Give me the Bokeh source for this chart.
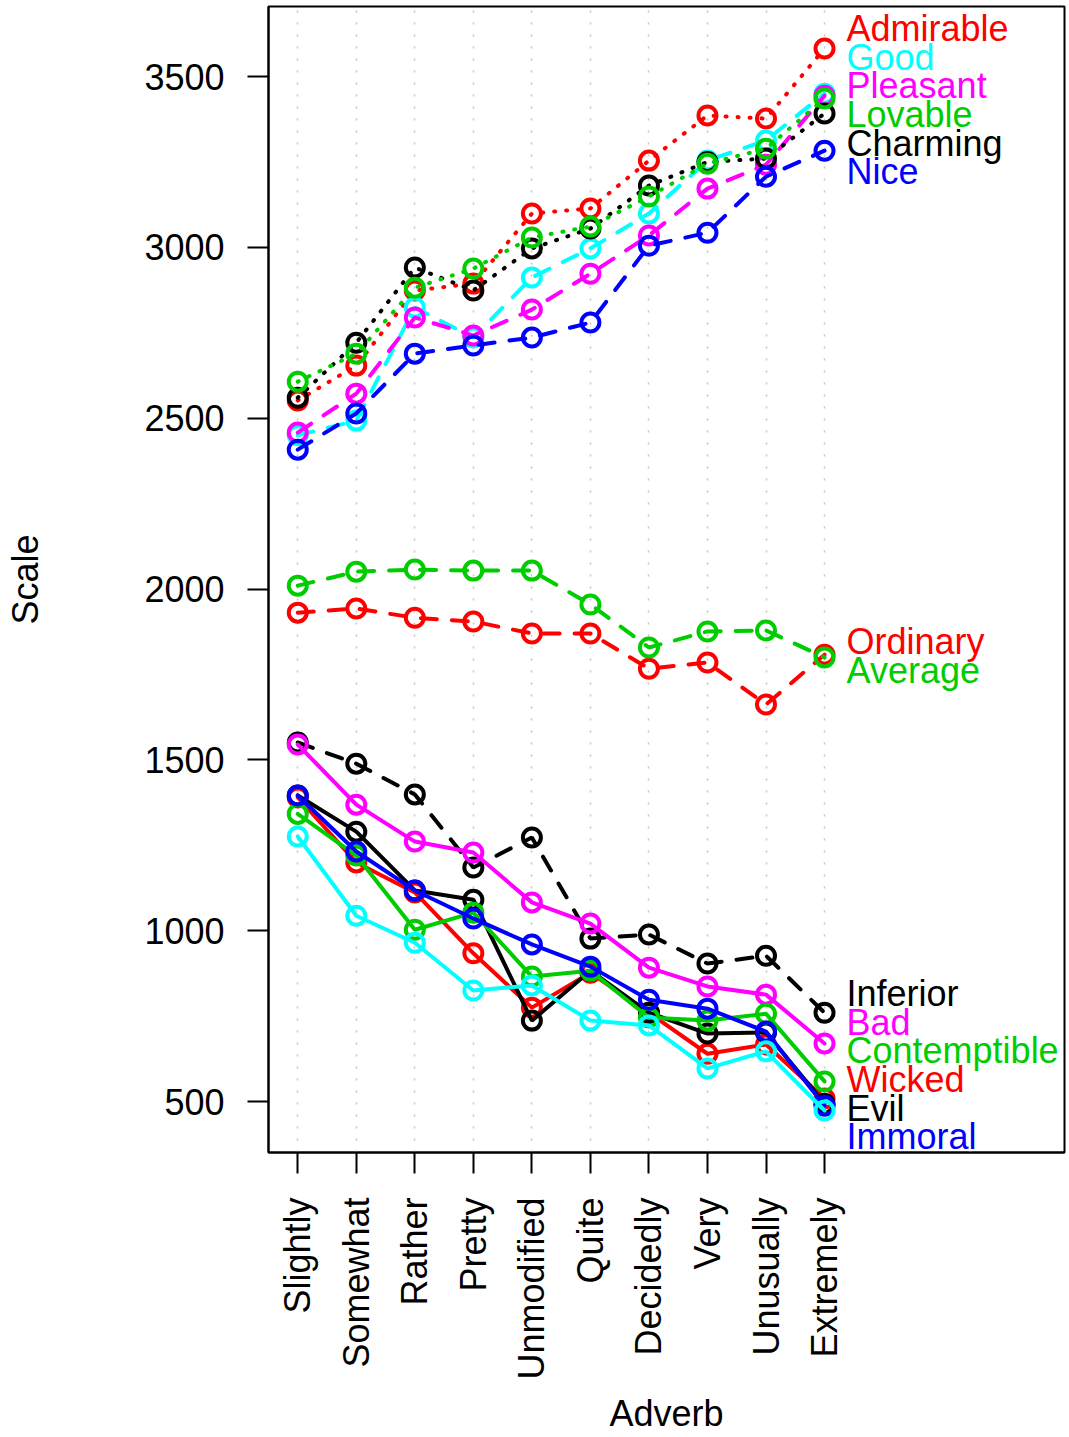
import math

from bokeh.core.properties import value
from bokeh.embed import file_html
from bokeh.models import ColumnDataSource, FixedTicker, Range1d
from bokeh.plotting import figure
from bokeh.resources import INLINE

# Adverb categories along the x axis
adverbs = ["Slightly", "Somewhat", "Rather", "Pretty", "Unmodified",
           "Quite", "Decidedly", "Very", "Unusually", "Extremely"]

# Mean scale value for each adjective, one value per adverb
admirable = [2552, 2654, 2874, 2894, 3099, 3114, 3254, 3386, 3377, 3582]
good = [2450, 2493, 2824, 2736, 2912, 2997, 3099, 3254, 3313, 3450]
pleasant = [2458, 2572, 2795, 2742, 2818, 2923, 3035, 3172, 3242, 3444]
lovable = [2607, 2689, 2882, 2938, 3029, 3061, 3149, 3245, 3289, 3436]
charming = [2560, 2721, 2941, 2874, 2997, 3055, 3181, 3250, 3260, 3392]
nice = [2408, 2514, 2689, 2713, 2736, 2780, 3005, 3043, 3207, 3283]
ordinary = [1931, 1943, 1916, 1905, 1870, 1870, 1767, 1785, 1662, 1808]
average = [2010, 2051, 2057, 2054, 2054, 1955, 1829, 1876, 1879, 1800]
inferior = [1551, 1489, 1399, 1185, 1273, 977, 989, 904, 927, 760]
bad = [1545, 1369, 1261, 1229, 1083, 1021, 892, 837, 813, 670]
contemptible = [1342, 1220, 1003, 1053, 866, 883, 746, 737, 757, 559]
wicked = [1390, 1200, 1112, 934, 775, 877, 760, 640, 667, 509]
evil = [1396, 1290, 1118, 1091, 737, 883, 760, 699, 702, 494]
immoral = [1396, 1232, 1118, 1036, 960, 895, 798, 772, 705, 488]
disgusting = [1276, 1044, 965, 825, 840, 737, 723, 597, 647, 474]

y_ticks = [500, 1000, 1500, 2000, 2500, 3000, 3500]

RED, CYAN, MAGENTA = "#FF0000", "#00FFFF", "#FF00FF"
GREEN, BLACK, BLUE = "#00CD00", "#000000", "#0000FF"
SOLID, DASHED, DOTTED = "solid", "16 15", "1 11"

# name, values, colour, line style (drawing order)
series = [
    ("Admirable", admirable, RED, DOTTED),
    ("Good", good, CYAN, DASHED),
    ("Pleasant", pleasant, MAGENTA, DASHED),
    ("Charming", charming, BLACK, DOTTED),
    ("Lovable", lovable, GREEN, DOTTED),
    ("Nice", nice, BLUE, DASHED),
    ("Ordinary", ordinary, RED, DASHED),
    ("Average", average, GREEN, DASHED),
    ("Inferior", inferior, BLACK, DASHED),
    ("Bad", bad, MAGENTA, SOLID),
    ("Wicked", wicked, RED, SOLID),
    ("Evil", evil, BLACK, SOLID),
    ("Contemptible", contemptible, GREEN, SOLID),
    ("Immoral", immoral, BLUE, SOLID),
    ("Disgusting", disgusting, CYAN, SOLID),
]

# adjectives whose end labels are stacked together
label_groups = [
    ["Admirable", "Good", "Pleasant", "Lovable", "Charming", "Nice"],
    ["Ordinary", "Average"],
    ["Inferior", "Bad", "Contemptible", "Wicked", "Evil", "Immoral", "Disgusting"],
]
LABEL_STEP = 84  # vertical spacing between stacked labels, in data units

FONT = "Liberation Sans"

xs = list(range(1, len(adverbs) + 1))

p = figure(
    width=1069, height=1437,
    x_range=Range1d(0.5, 14.1), y_range=Range1d(351, 3705),
    output_backend="svg", toolbar_location=None,
    min_border_left=268, min_border_right=5,
    min_border_top=6, min_border_bottom=285,
)
p.background_fill_color = "white"
p.border_fill_color = "white"
p.outline_line_color = "black"
p.outline_line_width = 2

# dotted reference lines at each adverb
p.ygrid.grid_line_color = None
p.xgrid.grid_line_color = "#c4c4c4"
p.xgrid.grid_line_dash = "2 10"
p.xgrid.grid_line_width = 1.5

for ax in (p.xaxis[0], p.yaxis[0]):
    ax.axis_line_width = 2
    ax.axis_line_color = "black"
    ax.major_tick_line_width = 2
    ax.major_tick_line_color = "black"
    ax.major_tick_out = 21
    ax.major_tick_in = 0
    ax.minor_tick_out = 0
    ax.minor_tick_in = 0
    ax.major_label_text_font = FONT
    ax.major_label_text_font_size = "36px"
    ax.major_label_text_color = "black"
    ax.axis_label_text_font = FONT
    ax.axis_label_text_font_size = "36px"
    ax.axis_label_text_font_style = "normal"
    ax.axis_label_text_color = "black"

p.xaxis.ticker = FixedTicker(ticks=xs)
p.xaxis.major_label_overrides = {x: a for x, a in zip(xs, adverbs)}
p.xaxis.major_label_orientation = math.pi / 2
p.xaxis.major_label_standoff = 24
p.xaxis.axis_label = "Adverb"
p.xaxis.axis_label_standoff = 10

p.yaxis.ticker = FixedTicker(ticks=y_ticks)
p.yaxis.major_label_overrides = {t: str(t) for t in y_ticks}
p.yaxis.major_label_standoff = 23
p.yaxis.axis_label = "Scale"
p.yaxis.axis_label_standoff = 95

for name, vals, color, dash in series:
    src = ColumnDataSource(dict(x=xs, y=vals))
    p.line("x", "y", source=src, line_color=color, line_width=4,
           line_dash=dash, line_cap="round")
    p.scatter("x", "y", source=src, marker="circle", size=18,
              fill_color=None, line_color=color, line_width=4)

# end labels: each group is spread evenly around its mean final value
lookup = {name: (vals, color) for name, vals, color, _ in series}
lab = dict(x=[], y=[], text=[], color=[])
for group in label_groups:
    ordered = sorted(group, key=lambda n: -lookup[n][0][-1])
    centre = sum(lookup[n][0][-1] for n in ordered) / len(ordered)
    half = (len(ordered) - 1) / 2
    for i, n in enumerate(ordered):
        lab["x"].append(xs[-1])
        lab["y"].append(centre + LABEL_STEP * (half - i))
        lab["text"].append(n)
        lab["color"].append(lookup[n][1])

p.text("x", "y", text="text", text_color="color", source=ColumnDataSource(lab),
       text_font=value(FONT), text_font_size="36px",
       text_baseline="middle", text_align="left", x_offset=22)

open("out.html", "w").write(file_html(p, INLINE))
